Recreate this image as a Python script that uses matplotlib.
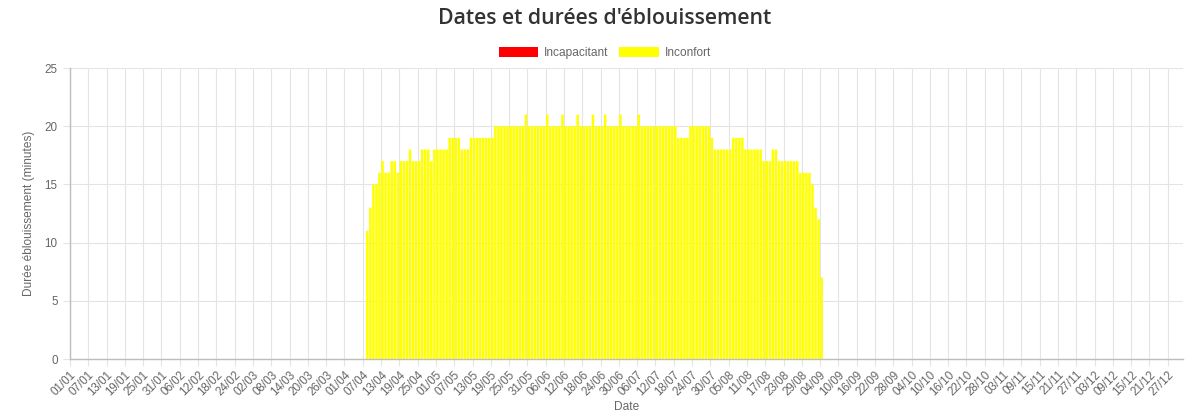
import matplotlib
matplotlib.use("Agg")
import matplotlib.pyplot as plt
import numpy as np
import pandas as pd

# Categories: every day of a (non-leap) year
dates = pd.date_range("2023-01-01", periods=365, freq="D")
day_labels = list(dates.strftime("%d/%m"))

# Glare durations (minutes) for "Inconfort", starting on 08/04
inconfort_start = "08/04"
inconfort_values = [
    11, 13, 15, 15, 16, 17, 16, 16, 17, 17,
    16, 17, 17, 17, 18, 17, 17, 17, 18, 18,
    18, 17, 18, 18, 18, 18, 18, 19, 19, 19,
    19, 18, 18, 18, 19, 19, 19, 19, 19, 19,
    19, 19, 20, 20, 20, 20, 20, 20, 20, 20,
    20, 20, 21, 20, 20, 20, 20, 20, 20, 21,
    20, 20, 20, 20, 21, 20, 20, 20, 20, 21,
    20, 20, 20, 20, 21, 20, 20, 20, 21, 20,
    20, 20, 20, 21, 20, 20, 20, 20, 20, 21,
    20, 20, 20, 20, 20, 20, 20, 20, 20, 20,
    20, 20, 19, 19, 19, 19, 20, 20, 20, 20,
    20, 20, 20, 19, 18, 18, 18, 18, 18, 18,
    19, 19, 19, 19, 18, 18, 18, 18, 18, 18,
    17, 17, 17, 18, 18, 17, 17, 17, 17, 17,
    17, 17, 16, 16, 16, 16, 15, 13, 12, 7,
]
# "Incapacitant" series: no glare on any day
incapacitant_values = [0] * 365

series_names = ["Incapacitant", "Inconfort"]
series_colors = ["#ff0000", "#ffff00"]
title_text = "Dates et durées d'éblouissement"
y_label = "Durée éblouissement (minutes)"
x_label = "Date"
y_ticks = [0, 5, 10, 15, 20, 25]
tick_step = 6

# Build full-year series
inconfort = np.zeros(len(day_labels))
s = day_labels.index(inconfort_start)
inconfort[s:s + len(inconfort_values)] = inconfort_values
incap = np.array(incapacitant_values, dtype=float)

W, H = 1201, 416
fig = plt.figure(figsize=(W / 100, H / 100), dpi=100)
ax = fig.add_axes([70 / W, 1 - 359 / H, (1183 - 70) / W, (359 - 68) / H])

x = np.arange(len(day_labels))
b_incap = ax.bar(x, incap, width=0.8, color=series_colors[0], linewidth=0)
b_inconf = ax.bar(x, inconfort, bottom=incap, width=0.82, color=series_colors[1],
                  linewidth=0, zorder=2)
for p in b_inconf.patches:
    p.set_snap(False)

ax.set_xlim(-0.5, len(day_labels) - 0.5)
ax.set_ylim(0, 25)
ax.set_yticks(y_ticks)

tick_idx = x[::tick_step]
ax.set_xticks(tick_idx - 0.5)
ax.set_xticklabels([day_labels[i] for i in tick_idx], rotation=45, ha="right",
                   rotation_mode="anchor")

grid_col = "#e4e4e4"
ax.grid(True, color=grid_col, linewidth=0.8, zorder=0)
ax.set_axisbelow(True)
for sp in ["top", "right"]:
    ax.spines[sp].set_visible(False)
for sp in ["left", "bottom"]:
    ax.spines[sp].set_color("#bdbdbd")
    ax.spines[sp].set_linewidth(1.0)

ax.tick_params(axis="both", colors=grid_col, length=5, width=0.8, labelcolor="#666666")
for lab in ax.get_xticklabels() + ax.get_yticklabels():
    lab.set_fontfamily("Liberation Sans")
    lab.set_fontsize(8.4)
ax.tick_params(axis="x", pad=2)
ax.tick_params(axis="y", pad=4)

ax.set_ylabel(y_label, fontfamily="Liberation Sans", fontsize=8.6, color="#666666",
              labelpad=7)
ax.set_xlabel(x_label, fontfamily="Liberation Sans", fontsize=8.6, color="#666666",
              labelpad=2)

fig.text(605 / W, 1 - 19 / H, title_text, ha="center", va="center",
         fontfamily="Open Sans", fontsize=15.3, fontweight="semibold", color="#333333")

leg = fig.legend([b_incap, b_inconf], series_names, loc="center",
                 bbox_to_anchor=(605 / W, 1 - 53 / H), ncol=2, frameon=False,
                 handlelength=3.3, handleheight=1.0, handletextpad=0.5,
                 columnspacing=0.9,
                 prop=dict(family="Liberation Sans", size=8.6))
for t in leg.get_texts():
    t.set_color("#666666")
for h, c in zip(leg.legend_handles, series_colors):
    h.set_facecolor(c)
    h.set_edgecolor(c)

fig.savefig("out.png", dpi=100)
